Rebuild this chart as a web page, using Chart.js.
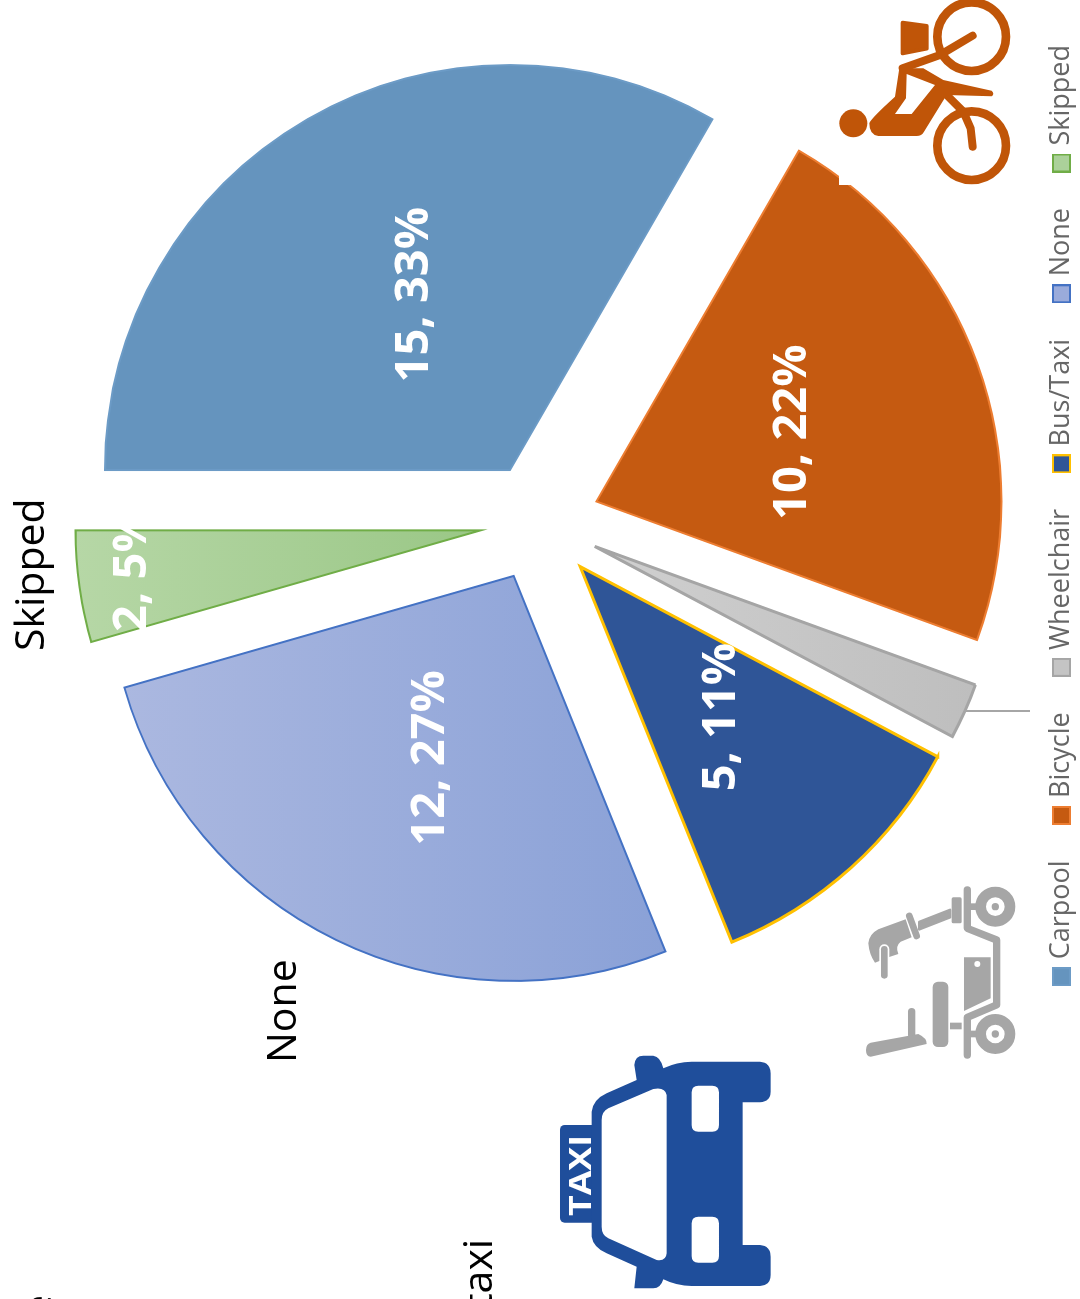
<!DOCTYPE html>
<html>
<head>
<meta charset="utf-8">
<title>Transport pie</title>
<script src="https://cdn.jsdelivr.net/npm/chart.js@4"></script>
<style>
  html, body { margin: 0; padding: 0; width: 1080px; height: 1299px; overflow: hidden; background: #fff; }
  /* the whole chart lies on its side in the reference */
  #chart_transport { position: absolute; left: 0; top: 0; transform-origin: 0 0; transform: translateY(1299px) rotate(-90deg); }
  #icons { position: absolute; left: 0; top: 0; }
</style>
</head>
<body>
<canvas id="chart_transport" width="1299" height="1120"></canvas>
<svg id="icons" width="1080" height="1299" viewBox="0 0 1080 1299">
  <!-- white box of the bicycle picture, it bites into the slice -->
  <rect x="839" y="0" width="185" height="185" fill="#fff"/>
  <g transform="translate(780,0) scale(0.3333)" fill="#C05508" stroke="none">
    <circle cx="575" cy="110" r="103" fill="none" stroke="#C05508" stroke-width="26"/>
    <circle cx="575" cy="437" r="103" fill="none" stroke="#C05508" stroke-width="26"/>
    <circle cx="220" cy="370" r="42"/>
    <path d="M368 68 L440 78 L440 146 L368 160 Z" stroke="#C05508" stroke-width="12" stroke-linejoin="round"/>
    <path d="M368 205 L480 165 L578 107" fill="none" stroke="#C05508" stroke-width="24" stroke-linecap="round" stroke-linejoin="round"/>
    <path d="M500 285 L550 335 L572 385 L578 440" fill="none" stroke="#C05508" stroke-width="24" stroke-linecap="round" stroke-linejoin="round"/>
    <path fill-rule="evenodd" d="M268 370 Q270 358 345 290 L358 205 L430 205 L490 240 L635 272 Q645 282 635 289 L500 285 L432 395 Q425 408 410 408 L295 408 Q268 405 268 370 Z M380 222 L378 295 L345 342 L395 342 L465 255 Z"/>
  </g>
  <g transform="translate(840,860) scale(0.3333)" fill="#A6A6A6" stroke="none">
    <circle cx="466" cy="140" r="44" fill="none" stroke="#A6A6A6" stroke-width="32"/>
    <circle cx="466" cy="140" r="11"/>
    <circle cx="466" cy="522" r="44" fill="none" stroke="#A6A6A6" stroke-width="32"/>
    <circle cx="466" cy="522" r="11"/>
    <path d="M382 90 L382 205 L470 240 L470 435 L382 472 L382 585" fill="none" stroke="#A6A6A6" stroke-width="22" stroke-linecap="round" stroke-linejoin="round"/>
    <rect x="382" y="130" width="28" height="20"/>
    <rect x="382" y="512" width="28" height="20"/>
    <rect x="335" y="112" width="30" height="78" rx="5"/>
    <path d="M238 186 L330 150 L330 172 L238 208 Z" stroke="#A6A6A6" stroke-width="8" stroke-linejoin="round"/>
    <path d="M208 168 L230 228" fill="none" stroke="#A6A6A6" stroke-width="20" stroke-linecap="round"/>
    <path d="M85 250 Q88 222 115 208 L197 178 L215 232 L182 245 Q165 258 175 282 L150 290 L105 308 Q88 285 85 250 Z"/>
    <path d="M133 268 L133 346" fill="none" stroke="#fff" stroke-width="30" stroke-linecap="round"/>
    <path d="M133 268 L133 346" fill="none" stroke="#A6A6A6" stroke-width="20" stroke-linecap="round"/>
    <path fill-rule="evenodd" d="M372 292 L452 292 L452 415 L372 453 Z M421 312 A9 9 0 1 0 403 312 A9 9 0 1 0 421 312 Z"/>
    <rect x="278" y="365" width="47" height="196" rx="16"/>
    <rect x="330" y="488" width="35" height="20"/>
    <path d="M215 455 L215 525" fill="none" stroke="#A6A6A6" stroke-width="22" stroke-linecap="round"/>
    <path d="M92 548 L235 522 Q262 535 260 552 L92 590 Q78 590 78 570 Q78 552 92 548 Z"/>
  </g>
  <g transform="translate(540,1040) scale(0.3333)" fill="#1F4E9B">
    <rect x="60" y="255" width="110" height="293" rx="14"/>
    <path fill-rule="evenodd" d="M155 215 Q160 178 200 160 L290 120 L283 75 Q285 47 310 47 L340 47 Q362 50 370 85 Q410 65 455 65 L660 65 Q692 68 692 100 L692 155 Q692 185 660 187 L608 187 L608 615 L660 615 Q692 618 692 650 L692 705 Q692 736 660 738 L455 738 Q410 738 370 718 Q362 745 340 745 L283 745 L290 680 L200 640 Q160 622 155 590 Z M185 240 Q185 215 205 205 L340 147 Q375 140 380 165 L380 640 Q378 665 350 660 L205 595 Q185 585 185 560 Z M475 137 Q455 137 455 157 L455 255 Q455 275 475 275 L517 275 Q537 275 537 255 L537 157 Q537 137 517 137 Z M475 530 Q455 530 455 550 L455 648 Q455 668 475 668 L517 668 Q537 668 537 648 L537 550 Q537 530 517 530 Z"/>
  </g>
  <text transform="translate(591,1216) rotate(-90)" font-family="Open Sans" font-weight="700" font-size="30" fill="#fff" textLength="81" lengthAdjust="spacingAndGlyphs">TAXI</text>
</svg>
<script>
var categories = ['Carpool', 'Bicycle', 'Wheelchair', 'Bus/Taxi', 'None', 'Skipped'];
var counts = [15, 10, 1, 5, 12, 2];
var percents = [33, 22, 2, 11, 27, 5];
var sideNotes = ['Skipped', 'None', 'taxi', 'e'];

var fillColors = ['#6594BE', '#C55A11', '#C4C4C4', '#2F5597', '#9AABDB', '#ABD19A'];
var edgeColors = ['#6C9BC6', '#ED7D31', '#A5A5A5', '#FFC000', '#4472C4', '#70AD47'];
var edgeWidths = [2, 2, 3, 3, 2, 2];

function gradient(ctx, from, to, c1, c2) {
  // runs along the chart's y, which ends up as the picture's x
  var g = ctx.createLinearGradient(0, from, 0, to);
  g.addColorStop(0, c1);
  g.addColorStop(1, c2);
  return g;
}

// legend box as a small canvas, the box-to-text gap can't be set otherwise
function swatch(i) {
  var c = document.createElement('canvas');
  c.width = 19;
  c.height = 19;
  var g = c.getContext('2d');
  g.fillStyle = fillColors[i];
  g.fillRect(0, 0, 19, 19);
  g.strokeStyle = edgeColors[i];
  g.lineWidth = 2;
  g.strokeRect(1, 1, 17, 17);
  return c;
}

var shiftSlices = {
  id: 'shiftSlices',
  // arc "offset" also grows the radius, so move the slices apart here
  afterDatasetsUpdate: function (chart, args, opts) {
    chart.getDatasetMeta(0).data.forEach(function (arc) {
      var mid = (arc.startAngle + arc.endAngle) / 2;
      arc.x += Math.cos(mid) * opts.gap;
      arc.y += Math.sin(mid) * opts.gap;
    });
  }
};

var sliceLabels = {
  id: 'sliceLabels',
  afterDatasetsDraw: function (chart, args, opts) {
    var ctx = chart.ctx;
    ctx.save();
    ctx.font = '700 47px "Open Sans"';
    ctx.fillStyle = '#fff';
    ctx.textAlign = 'center';
    ctx.textBaseline = 'middle';
    chart.getDatasetMeta(0).data.forEach(function (arc, i) {
      if (!opts.along[i]) return;
      var mid = (arc.startAngle + arc.endAngle) / 2;
      var r = arc.outerRadius * opts.along[i];
      ctx.fillText(counts[i] + ', ' + percents[i] + '%',
        arc.x + Math.cos(mid) * r + (opts.nudge[i] || 0), arc.y + Math.sin(mid) * r + opts.lift);
    });
    ctx.restore();
  }
};

var notesAndLeader = {
  id: 'notesAndLeader',
  afterDraw: function (chart, args, opts) {
    var ctx = chart.ctx;
    ctx.save();
    ctx.strokeStyle = '#A6A6A6';
    ctx.lineWidth = 2;
    ctx.beginPath();
    ctx.moveTo(opts.leader[0], opts.leader[1]);
    ctx.lineTo(opts.leader[0], opts.leader[2]);
    ctx.stroke();
    ctx.font = '41px "Open Sans"';
    ctx.fillStyle = '#000';
    ctx.textBaseline = 'alphabetic';
    sideNotes.forEach(function (t, i) {
      ctx.fillText(t, opts.spots[i][0], opts.spots[i][1]);
    });
    ctx.restore();
  }
};

function create_chart() {
  var canvas = document.getElementById('chart_transport');
  var ctx = canvas.getContext('2d');
  var fills = fillColors.slice();
  fills[2] = gradient(ctx, 595, 975, '#D0D0D0', '#BEBEBE');
  fills[4] = gradient(ctx, 124, 665, '#ABB8E0', '#8AA1D7');
  fills[5] = gradient(ctx, 75, 480, '#B6D7A6', '#9AC786');

  return new Chart(canvas, {
    type: 'pie',
    data: {
      labels: categories,
      datasets: [{
        data: counts,
        backgroundColor: fills,
        borderColor: edgeColors,
        borderWidth: edgeWidths,
        borderJoinStyle: 'miter',
        clip: false
      }]
    },
    options: {
      responsive: false,
      animation: false,
      events: [],
      radius: 405,
      layout: { padding: { left: 259, right: 4, top: 73, bottom: 35 } },
      plugins: {
        tooltip: { enabled: false },
        shiftSlices: { gap: 60 },
        sliceLabels: { along: [0.5, 0.5, 0, 0.5, 0.5, 0.882], nudge: { 5: 9 }, lift: 6 },
        notesAndLeader: {
          leader: [588, 964, 1030],
          spots: [[648, 44], [236, 296], [-9, 492], [-19, 52]]
        },
        legend: {
          position: 'bottom',
          align: 'end',
          labels: {
            usePointStyle: true,
            pointStyleWidth: 8,
            boxHeight: 19,
            padding: 41,
            font: { family: 'Open Sans', size: 27 },
            generateLabels: function () {
              return categories.map(function (name, i) {
                return { text: name, pointStyle: swatch(i), fontColor: '#666666', index: i };
              });
            }
          }
        }
      }
    },
    plugins: [shiftSlices, sliceLabels, notesAndLeader]
  });
}

create_chart();
</script>
</body>
</html>
